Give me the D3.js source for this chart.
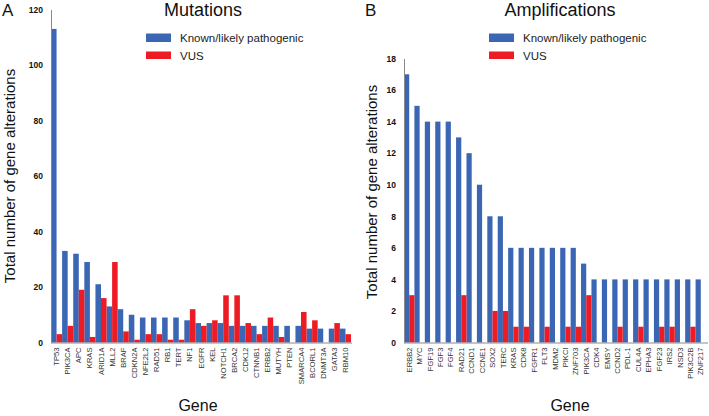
<!DOCTYPE html>
<html>
<head>
<meta charset="utf-8">
<script src="https://cdn.jsdelivr.net/npm/d3@7"></script>
<style>
  html, body { margin: 0; padding: 0; background: #fff; }
  svg { display: block; font-family: "Liberation Sans", Arial, Helvetica, sans-serif; }
</style>
</head>
<body>
<svg id="chart" width="709" height="416"></svg>
<script>
// ---- Data ----
const genesA = ["TP53","PIK3CA","APC","KRAS","ARID1A","MLL2","BRAF","CDKN2A","NFE2L2","RAD51","RB1","TERT","NF1","EGFR","KEL","NOTCH1","BRCA2","CDK12","CTNNB1","ERBB2","MUTYH","PTEN","SMARCA4","BCORL1","DNMT3A","GATA3","RBM10"];
const knownA = [113,33,32,29,21,13,12,10,9,9,9,9,8,7,7,7,6,6,6,6,6,6,6,5,5,5,5];
const vusA   = [3,6,19,2,16,29,4,1,3,3,1,1,12,6,8,17,17,7,3,9,2,0,11,8,0,7,3];
const ticksA = [0,20,40,60,80,100,120];

const genesB = ["ERBB2","MYC","FGF19","FGF3","FGF4","RAD21","CCND1","CCNE1","SOX2","TERC","KRAS","CDK8","FGFR1","FLT3","MDM2","PIKCI","ZNF703","PIK3CA","CDK4","EMSY","CCND2","PDL-1","CUL4A","EPHA3","FGF23","IRS2","NSD3","PIK3C2B","ZNF217"];
const knownB = [17,15,14,14,14,13,12,10,8,8,6,6,6,6,6,6,6,5,4,4,4,4,4,4,4,4,4,4,4];
const vusB   = [3,0,0,0,0,3,0,0,2,2,1,1,0,1,0,1,1,3,0,0,1,0,1,0,1,1,0,1,0];
const ticksB = [0,2,4,6,8,10,12,14,16,18];

const seriesNames = ["Known/likely pathogenic","VUS"];
const colors = ["#3A66B4","#ED1C24"];

const svg = d3.select("#chart");

function panel(cfg) {
  const g = svg.append("g");
  const x = d3.scaleBand().domain(cfg.genes).range([cfg.x0, cfg.x1]).paddingInner(0).paddingOuter(0);
  const y = d3.scaleLinear().domain([0, cfg.ymax]).range([cfg.y0, cfg.y1]);
  const half = x.bandwidth() / 2;

  // bars
  g.append("g").selectAll("rect.k").data(cfg.genes).join("rect")
    .attr("x", d => x(d)).attr("width", half)
    .attr("y", (d, i) => y(cfg.known[i]))
    .attr("height", (d, i) => y(0) - y(cfg.known[i]))
    .attr("fill", colors[0]);
  g.append("g").selectAll("rect.v").data(cfg.genes).join("rect")
    .attr("x", d => x(d) + half).attr("width", half)
    .attr("y", (d, i) => y(cfg.vus[i]))
    .attr("height", (d, i) => y(0) - y(cfg.vus[i]))
    .attr("fill", colors[1]);

  // y axis
  const ya = g.append("g").attr("transform", `translate(${cfg.x0},0)`)
    .call(d3.axisLeft(y).tickValues(cfg.ticks).tickSize(0).tickPadding(8).tickSizeOuter(0));
  ya.select(".domain").attr("stroke", "#8a8a8a").attr("stroke-width", 1);
  ya.selectAll("text").attr("font-size", 8.5).attr("font-weight", "bold").attr("fill", "#111")
    .attr("font-family", "'Liberation Sans', Arial, sans-serif");

  // x axis
  const xa = g.append("g").attr("transform", `translate(0,${cfg.y0})`)
    .call(d3.axisBottom(x).tickSize(0).tickSizeOuter(0).tickPadding(0));
  xa.select(".domain").attr("stroke", "#8a8a8a").attr("stroke-width", 1)
    .attr("d", `M${cfg.x0},0.5H${cfg.xAxisEnd}`);
  xa.selectAll(".tick text")
    .attr("font-size", 7.6).attr("fill", "#333")
    .attr("font-family", "'Liberation Sans', Arial, sans-serif")
    .attr("text-anchor", "end")
    .attr("dy", null)
    .attr("transform", "translate(2.6,5) rotate(-90)")
    .attr("x", 0).attr("y", 0);

  // panel letter
  g.append("text").attr("x", cfg.letterX).attr("y", 16).attr("font-size", 17).attr("fill", "#111").text(cfg.letter);
  // title
  g.append("text").attr("x", cfg.titleX).attr("y", 16).attr("text-anchor", "middle")
    .attr("font-size", 18).attr("fill", "#111").text(cfg.title);

  // legend
  const lg = g.append("g");
  seriesNames.forEach((s, i) => {
    lg.append("rect").attr("x", cfg.legX).attr("y", 33.5 + i * 18).attr("width", 25).attr("height", i === 0 ? 8.5 : 7.5)
      .attr("fill", colors[i]);
    lg.append("text").attr("x", cfg.legX + 34).attr("y", 42 + i * 18).attr("font-size", 11.5).attr("fill", "#222").text(s);
  });

  // y axis title
  g.append("text").attr("transform", `translate(${cfg.yTitleX},${cfg.yTitleY}) rotate(-90)`)
    .attr("text-anchor", "middle").attr("font-size", 15).attr("fill", "#111")
    .text("Total number of gene alterations");
  // x axis title
  g.append("text").attr("x", cfg.xTitleX).attr("y", 411).attr("text-anchor", "middle")
    .attr("font-size", 16).attr("fill", "#111").text("Gene");
}

panel({genes: genesA, known: knownA, vus: vusA, ticks: ticksA, ymax: 120,
  x0: 51, x1: 351, xAxisEnd: 352, y0: 342.5, y1: 9.5,
  letter: "A", letterX: 2, title: "Mutations", titleX: 203, legX: 146,
  yTitleX: 15, yTitleY: 176, xTitleX: 198});

panel({genes: genesB, known: knownB, vus: vusB, ticks: ticksB, ymax: 18,
  x0: 404, x1: 706, xAxisEnd: 708, y0: 342.5, y1: 58.5,
  letter: "B", letterX: 365, title: "Amplifications", titleX: 560, legX: 489,
  yTitleX: 377, yTitleY: 192, xTitleX: 570});
</script>
</body>
</html>
